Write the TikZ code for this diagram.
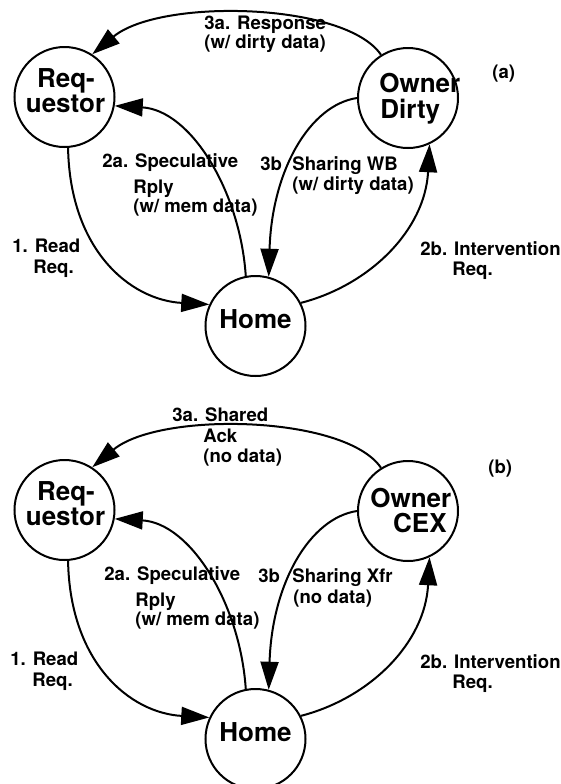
\documentclass[tikz,border=0pt]{standalone}
\usepackage{fontspec}
\setmainfont{TeX Gyre Heros}
\usetikzlibrary{arrows.meta}
\begin{document}
\begin{tikzpicture}[x=0.5pt,y=-0.5pt,
  state/.style={circle,draw,line width=1pt,minimum size=50pt,inner sep=0pt},
  lbl/.style={font=\bfseries\fontsize{9.3}{11}\selectfont,inner sep=0pt,anchor=base west},
  big/.style={font=\bfseries\fontsize{13}{12}\selectfont,inner sep=0pt,anchor=base west},
  conn/.style={line width=1pt,-{Triangle[length=14pt,width=9pt]}}]
\useasboundingbox (0,0) rectangle (561,784);

% ---------------- (a) ----------------
\node[state] (reqA) at (64.5,97) {};
\node[state] (ownA) at (408,98) {};
\node[state] (homeA) at (255.5,326) {};
\node[big,anchor=base] (reqAt1) at (66,87) {Req-};
\node[big,anchor=base] (reqAt2) at (65.5,112) {uestor};
\node[big] (ownAt1) at (379,92) {Owner};
\node[big] (ownAt2) at (380,118) {Dirty};
\node[big,anchor=base] (homeAt) at (255.5,328) {Home};

\node[lbl] (a3a1) at (204,29) {3a. Response};
\node[lbl] (a3a2) at (204,48) {(w/ dirty data)};
\node[lbl] (atag) at (492,78) {(a)};
\node[lbl] (a2a1) at (102,167) {2a. Speculative};
\node[lbl] (a2a2) at (133,193) {Rply};
\node[lbl] (a2a3) at (133,212) {(w/ mem data)};
\node[lbl] (a3b0) at (260,170) {3b};
\node[lbl] (a3b1) at (292,170) {Sharing WB};
\node[lbl] (a3b2) at (292,190) {(w/ dirty data)};
\node[lbl] (a1a) at (12,252) {1. Read};
\node[lbl] (a1b) at (33,273) {Req.};
\node[lbl] (a2b1) at (420,255) {2b. Intervention};
\node[lbl] (a2b2) at (452,275) {Req.};

\draw[conn] (reqA.-86) .. controls (70,250) and (130,300) .. (homeA.155);
\draw[conn] (homeA.101) .. controls (240,190) and (190,110) .. (reqA.-10);
\draw[conn] (ownA.180) .. controls (310,105) and (272,170) .. (homeA.75);
\draw[conn] (homeA.27) .. controls (370,285) and (425,230) .. (ownA.-65);
\draw[conn] (ownA.122) .. controls (345,2) and (160,-2) .. (reqA.57);

% ---------------- (b) ----------------
\begin{scope}[shift={(0,413)}]
\node[state] (reqB) at (64.5,97) {};
\node[state] (ownB) at (408,98) {};
\node[state] (homeB) at (255.5,326) {};
\node[big,anchor=base] (reqBt1) at (66,87) {Req-};
\node[big,anchor=base] (reqBt2) at (65.5,112) {uestor};
\node[big] (ownBt1) at (370,94) {Owner};
\node[big,anchor=base east] (ownBt2) at (447,119) {CEX};
\node[big,anchor=base] (homeBt) at (255.5,328) {Home};

\node[lbl] (b3a1) at (172,8) {3a. Shared};
\node[lbl] (b3a2) at (203,29) {Ack};
\node[lbl] (b3a3) at (203,49) {(no data)};
\node[lbl] (btag) at (488,60) {(b)};
\node[lbl] (b2a1) at (104,167) {2a. Speculative};
\node[lbl] (b2a2) at (135,193) {Rply};
\node[lbl] (b2a3) at (135,212) {(w/ mem data)};
\node[lbl] (b3b0) at (258,169) {3b};
\node[lbl] (b3b1) at (292,169) {Sharing Xfr};
\node[lbl] (b3b2) at (293,190) {(no data)};
\node[lbl] (b1a) at (10,252) {1. Read};
\node[lbl] (b1b) at (32,273) {Req.};
\node[lbl] (b2b1) at (420,255) {2b. Intervention};
\node[lbl] (b2b2) at (452,275) {Req.};

\draw[conn] (reqB.-86) .. controls (70,250) and (130,300) .. (homeB.155);
\draw[conn] (homeB.101) .. controls (240,190) and (190,110) .. (reqB.-10);
\draw[conn] (ownB.180) .. controls (310,105) and (272,170) .. (homeB.75);
\draw[conn] (homeB.27) .. controls (370,285) and (425,230) .. (ownB.-65);
\draw[conn] (ownB.122) .. controls (345,2) and (160,-2) .. (reqB.57);
\end{scope}
\end{tikzpicture}
\end{document}
